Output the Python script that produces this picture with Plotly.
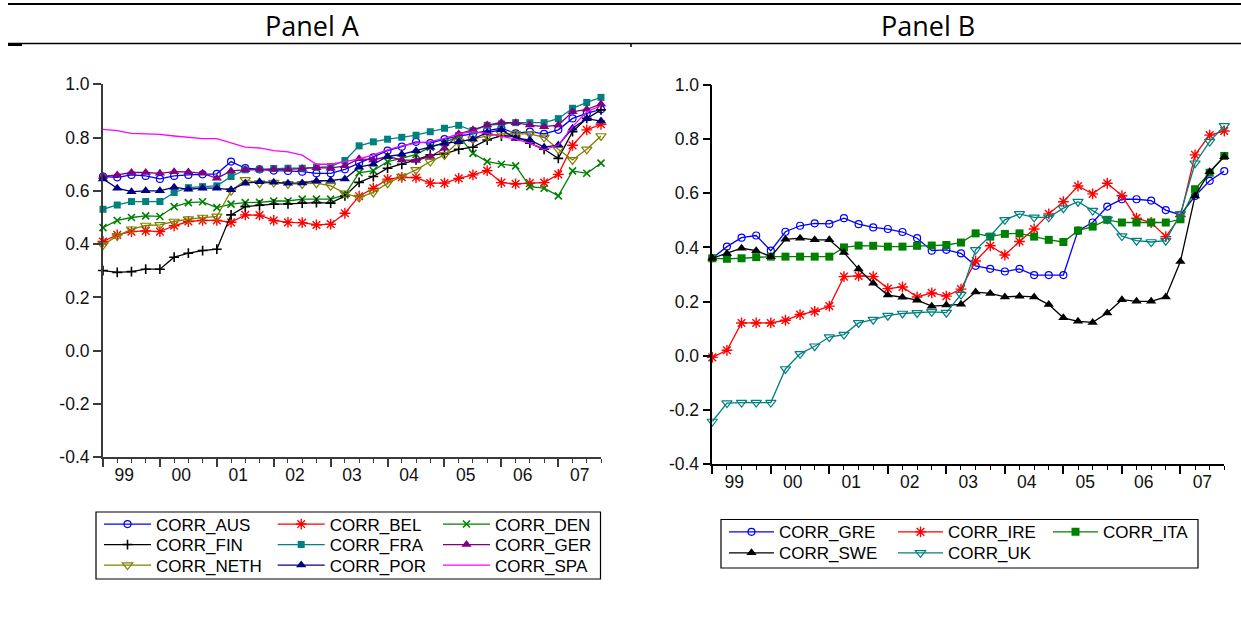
import plotly.graph_objects as go

W, H = 1241, 627

# ---------------- data ----------------
quarters = list(range(36))  # 1999Q1 .. 2007Q4
year_labels = ["99", "00", "01", "02", "03", "04", "05", "06", "07"]
year_label_pos = [1.5, 5.5, 9.5, 13.5, 17.5, 21.5, 25.5, 29.5, 33.5]
major_ticks = [0, 4, 8, 12, 16, 20, 24, 28, 32]
y_ticks = [-0.4, -0.2, 0.0, 0.2, 0.4, 0.6, 0.8, 1.0]
y_ticktext = ["-0.4", "-0.2", "0.0", "0.2", "0.4", "0.6", "0.8", "1.0"]

panel_titles = ["Panel A", "Panel B"]

names_a = ["CORR_AUS", "CORR_BEL", "CORR_DEN", "CORR_FIN", "CORR_FRA",
           "CORR_GER", "CORR_NETH", "CORR_POR", "CORR_SPA"]
corr_aus = [0.654, 0.651, 0.660, 0.656, 0.645, 0.656, 0.660, 0.662, 0.664, 0.710, 0.685, 0.681,
            0.676, 0.675, 0.672, 0.666, 0.666, 0.681, 0.705, 0.726, 0.751, 0.766, 0.784, 0.779,
            0.794, 0.806, 0.814, 0.826, 0.835, 0.816, 0.822, 0.814, 0.829, 0.872, 0.891, 0.906]
corr_bel = [0.410, 0.435, 0.447, 0.450, 0.447, 0.469, 0.485, 0.489, 0.489, 0.482, 0.510, 0.509,
            0.489, 0.482, 0.481, 0.472, 0.475, 0.516, 0.580, 0.610, 0.644, 0.651, 0.650, 0.629,
            0.629, 0.647, 0.660, 0.676, 0.631, 0.626, 0.629, 0.631, 0.662, 0.771, 0.829, 0.850]
corr_den = [0.462, 0.489, 0.500, 0.506, 0.504, 0.541, 0.556, 0.559, 0.537, 0.550, 0.556, 0.557,
            0.562, 0.562, 0.569, 0.569, 0.569, 0.585, 0.668, 0.676, 0.710, 0.722, 0.737, 0.764,
            0.781, 0.806, 0.741, 0.710, 0.700, 0.694, 0.616, 0.610, 0.581, 0.675, 0.666, 0.704]
corr_fin = [0.301, 0.294, 0.297, 0.306, 0.306, 0.351, 0.366, 0.376, 0.381, 0.510, 0.541, 0.546,
            0.550, 0.551, 0.554, 0.556, 0.554, 0.581, 0.632, 0.654, 0.685, 0.700, 0.716, 0.735,
            0.739, 0.756, 0.764, 0.791, 0.806, 0.806, 0.779, 0.756, 0.722, 0.822, 0.872, 0.904]
corr_fra = [0.531, 0.547, 0.560, 0.560, 0.560, 0.594, 0.612, 0.616, 0.619, 0.654, 0.679, 0.681,
            0.684, 0.685, 0.685, 0.689, 0.691, 0.714, 0.769, 0.784, 0.794, 0.801, 0.809, 0.822,
            0.835, 0.846, 0.826, 0.846, 0.851, 0.856, 0.856, 0.856, 0.871, 0.910, 0.932, 0.951]
corr_ger = [0.654, 0.660, 0.669, 0.669, 0.666, 0.672, 0.671, 0.666, 0.647, 0.675, 0.679, 0.681,
            0.681, 0.681, 0.684, 0.687, 0.685, 0.694, 0.721, 0.716, 0.729, 0.716, 0.714, 0.729,
            0.760, 0.814, 0.829, 0.847, 0.857, 0.856, 0.847, 0.841, 0.847, 0.897, 0.906, 0.926]
corr_neth = [0.397, 0.431, 0.456, 0.470, 0.472, 0.485, 0.494, 0.500, 0.504, 0.600, 0.641, 0.629,
             0.631, 0.626, 0.626, 0.629, 0.619, 0.591, 0.575, 0.594, 0.629, 0.654, 0.679, 0.710,
             0.735, 0.785, 0.794, 0.806, 0.814, 0.814, 0.814, 0.801, 0.756, 0.716, 0.756, 0.806]
corr_por = [0.645, 0.610, 0.597, 0.600, 0.600, 0.614, 0.606, 0.610, 0.610, 0.604, 0.629, 0.634,
            0.632, 0.629, 0.630, 0.637, 0.639, 0.645, 0.689, 0.700, 0.729, 0.737, 0.751, 0.764,
            0.779, 0.784, 0.794, 0.819, 0.829, 0.797, 0.791, 0.764, 0.772, 0.835, 0.871, 0.862]
corr_spa = [0.831, 0.826, 0.816, 0.814, 0.812, 0.806, 0.800, 0.796, 0.796, 0.780, 0.764, 0.761,
            0.751, 0.746, 0.734, 0.700, 0.700, 0.710, 0.720, 0.735, 0.754, 0.769, 0.779, 0.785,
            0.797, 0.814, 0.822, 0.816, 0.806, 0.794, 0.779, 0.754, 0.772, 0.841, 0.897, 0.919]
values_a = [corr_aus, corr_bel, corr_den, corr_fin, corr_fra,
            corr_ger, corr_neth, corr_por, corr_spa]

names_b = ["CORR_GRE", "CORR_IRE", "CORR_ITA", "CORR_SWE", "CORR_UK"]
corr_gre = [0.360, 0.403, 0.436, 0.444, 0.388, 0.458, 0.480, 0.489, 0.487, 0.508, 0.486, 0.474,
            0.468, 0.457, 0.434, 0.388, 0.391, 0.378, 0.332, 0.321, 0.311, 0.321, 0.298, 0.298,
            0.298, 0.462, 0.492, 0.551, 0.578, 0.578, 0.573, 0.538, 0.520, 0.590, 0.646, 0.682]
corr_ire = [-0.006, 0.020, 0.121, 0.121, 0.121, 0.131, 0.152, 0.164, 0.183, 0.292, 0.295, 0.292,
            0.248, 0.254, 0.217, 0.232, 0.220, 0.246, 0.350, 0.406, 0.372, 0.422, 0.468, 0.524,
            0.569, 0.627, 0.598, 0.637, 0.591, 0.508, 0.492, 0.440, 0.514, 0.742, 0.815, 0.830]
corr_ita = [0.360, 0.358, 0.360, 0.364, 0.366, 0.366, 0.366, 0.366, 0.366, 0.400, 0.407, 0.406,
            0.403, 0.403, 0.406, 0.407, 0.409, 0.418, 0.452, 0.440, 0.450, 0.452, 0.440, 0.428,
            0.420, 0.462, 0.477, 0.502, 0.492, 0.492, 0.492, 0.492, 0.504, 0.615, 0.676, 0.738]
corr_swe = [0.360, 0.378, 0.397, 0.388, 0.366, 0.430, 0.434, 0.428, 0.428, 0.381, 0.320, 0.268,
            0.224, 0.216, 0.205, 0.183, 0.187, 0.190, 0.235, 0.230, 0.217, 0.220, 0.217, 0.189,
            0.140, 0.127, 0.123, 0.158, 0.207, 0.201, 0.201, 0.217, 0.348, 0.590, 0.680, 0.735]
corr_uk = [-0.243, -0.175, -0.173, -0.173, -0.173, -0.049, 0.007, 0.035, 0.069, 0.078, 0.121, 0.133,
           0.148, 0.156, 0.158, 0.162, 0.159, 0.226, 0.391, 0.442, 0.502, 0.524, 0.511, 0.511,
           0.545, 0.569, 0.536, 0.504, 0.442, 0.425, 0.420, 0.425, 0.524, 0.711, 0.791, 0.849]
values_b = [corr_gre, corr_ire, corr_ita, corr_swe, corr_uk]

# ---------------- styles ----------------
styles = {
    "CORR_AUS": dict(color="#0000FF", symbol="circle-open", size=7, lw=1.2),
    "CORR_BEL": dict(color="#FF0000", symbol="asterisk-open", size=9, lw=1.4),
    "CORR_DEN": dict(color="#008000", symbol="x-thin-open", size=7, lw=1.6),
    "CORR_FIN": dict(color="#000000", symbol="cross-thin-open", size=7, lw=1.6),
    "CORR_FRA": dict(color="#008080", symbol="square", size=7, lw=0),
    "CORR_GER": dict(color="#800080", symbol="triangle-up", size=9, lw=0),
    "CORR_NETH": dict(color="#808000", symbol="triangle-down-open", size=9, lw=1.2),
    "CORR_POR": dict(color="#000080", symbol="triangle-up", size=9, lw=0),
    "CORR_SPA": dict(color="#FF00FF", symbol=None, size=0, lw=0),
    "CORR_GRE": dict(color="#0000FF", symbol="circle-open", size=7, lw=1.2),
    "CORR_IRE": dict(color="#FF0000", symbol="asterisk-open", size=9, lw=1.4),
    "CORR_ITA": dict(color="#008000", symbol="square", size=8, lw=0),
    "CORR_SWE": dict(color="#000000", symbol="triangle-up", size=9, lw=0),
    "CORR_UK": dict(color="#008080", symbol="triangle-down-open", size=9, lw=1.2),
}

FONT = "Liberation Sans, Arial, sans-serif"


def px(x):
    return x / W


def py(y):
    return 1 - y / H


fig = go.Figure()

# legend layout (pixel positions of columns / rows)
leg_a_cols = [99, 272.7, 438]
leg_a_rows = [524.5, 545, 565.5]
leg_b_cols = [724, 893, 1048]
leg_b_rows = [532.3, 553.3]

legend_layouts = {}
leg_counter = [0]


def add_series(name, vals, xa, ya, col_x, row_y, itemw):
    st = styles[name]
    leg_counter[0] += 1
    k = leg_counter[0]
    lname = "legend" if k == 1 else f"legend{k}"
    legend_layouts[lname] = dict(
        x=px(col_x), y=py(row_y), xanchor="left", yanchor="middle",
        orientation="v", bgcolor="rgba(0,0,0,0)", borderwidth=0,
        font=dict(family=FONT, size=17, color="#000000"),
        itemwidth=itemw, itemclick=False, itemdoubleclick=False,
    )
    if st["symbol"] is None:
        mode = "lines"
        marker = None
    else:
        mode = "lines+markers"
        filled = not st["symbol"].endswith("open")
        marker = dict(symbol=st["symbol"], size=st["size"], color=st["color"],
                      line=dict(color=st["color"], width=st["lw"] if not filled else 0))
    tr = go.Scatter(
        x=quarters, y=vals, name=name, mode=mode,
        line=dict(color=st["color"], width=1.3),
        xaxis=xa, yaxis=ya, legend=lname, cliponaxis=False,
        showlegend=True,
    )
    if marker is not None:
        tr.marker = marker
    fig.add_trace(tr)


for i, (n, v) in enumerate(zip(names_a, values_a)):
    add_series(n, v, "x", "y", leg_a_cols[i % 3], leg_a_rows[i // 3], 47)
for i, (n, v) in enumerate(zip(names_b, values_b)):
    add_series(n, v, "x2", "y2", leg_b_cols[i % 3], leg_b_rows[i // 3], 45)

# empty traces so that the label (overlay) axes are created and drawn
fig.add_trace(go.Scatter(x=[], y=[], xaxis="x3", yaxis="y", showlegend=False,
                         hoverinfo="skip"))
fig.add_trace(go.Scatter(x=[], y=[], xaxis="x4", yaxis="y2", showlegend=False,
                         hoverinfo="skip"))

# ---------------- axes ----------------
dom_ax = [px(103), px(601)]
dom_ay = [py(457.3), py(84.3)]
dom_bx = [px(712.3), px(1224.3)]
dom_by = [py(464), py(85)]

tickfont = dict(family=FONT, size=17.5, color="#111111")


def x_main(domain, anchor, lc, lw):
    return dict(domain=domain, anchor=anchor, range=[0, 35], showgrid=False, zeroline=False,
                showline=True, linecolor=lc, linewidth=lw,
                tickmode="array", tickvals=major_ticks, ticks="outside", ticklen=8,
                tickwidth=1.5, tickcolor=lc, showticklabels=False,
                minor=dict(tickmode="array", tickvals=quarters, ticks="outside",
                           ticklen=4, tickwidth=1.2, tickcolor=lc))


def x_labels(overlay, anchor):
    return dict(overlaying=overlay, anchor=anchor, side="bottom", range=[0, 35],
                showgrid=False, zeroline=False, showline=False, tickmode="array",
                tickvals=year_label_pos, ticktext=year_labels, ticks="outside",
                ticklen=2, tickcolor="rgba(0,0,0,0)", showticklabels=True,
                tickfont=tickfont)


def y_main(domain, anchor, lc, lw):
    return dict(domain=domain, anchor=anchor, range=[-0.4, 1.0], showgrid=False,
                zeroline=False, showline=True, linecolor=lc, linewidth=lw,
                tickmode="array", tickvals=y_ticks, ticktext=y_ticktext,
                ticks="outside", ticklen=8, tickwidth=1.5, tickcolor=lc,
                tickfont=tickfont)


fig.update_layout(
    xaxis=x_main(dom_ax, "y", "#3a3a3a", 2),
    yaxis=y_main(dom_ay, "x", "#3a3a3a", 2),
    xaxis2=x_main(dom_bx, "y2", "#000000", 1.5),
    yaxis2=y_main(dom_by, "x2", "#000000", 1.5),
    xaxis3=x_labels("x", "y"),
    xaxis4=x_labels("x2", "y2"),
)

fig.update_layout(**legend_layouts)

# ---------------- decorations ----------------
shapes = [
    dict(type="line", xref="paper", yref="paper", x0=px(8), x1=1, y0=py(4), y1=py(4),
         line=dict(color="#000000", width=2.2)),
    dict(type="line", xref="paper", yref="paper", x0=px(8), x1=1, y0=py(43.5), y1=py(43.5),
         line=dict(color="#000000", width=1.3)),
    dict(type="line", xref="paper", yref="paper", x0=px(8), x1=px(22), y0=py(44.5), y1=py(44.5),
         line=dict(color="#000000", width=3)),
    dict(type="line", xref="paper", yref="paper", x0=px(631), x1=px(631), y0=py(43.5), y1=py(47),
         line=dict(color="#000000", width=1.5)),
    # legend boxes
    dict(type="rect", xref="paper", yref="paper", x0=px(96), x1=px(600.5), y0=py(512), y1=py(579),
         line=dict(color="#000000", width=1.2), fillcolor="rgba(0,0,0,0)", layer="below"),
    dict(type="rect", xref="paper", yref="paper", x0=px(721), x1=px(1198), y0=py(519.5), y1=py(568),
         line=dict(color="#000000", width=1.2), fillcolor="rgba(0,0,0,0)", layer="below"),
]

annotations = [
    dict(text=panel_titles[0], xref="paper", yref="paper", x=px(312), y=py(26),
         xanchor="center", yanchor="middle", showarrow=False,
         font=dict(family="Open Sans, sans-serif", size=27, color="#000000")),
    dict(text=panel_titles[1], xref="paper", yref="paper", x=px(928), y=py(26),
         xanchor="center", yanchor="middle", showarrow=False,
         font=dict(family="Open Sans, sans-serif", size=27, color="#000000")),
]

fig.update_layout(
    width=W, height=H,
    margin=dict(l=0, r=0, t=0, b=0, pad=0, autoexpand=False),
    paper_bgcolor="white", plot_bgcolor="white",
    shapes=shapes, annotations=annotations,
    font=dict(family=FONT, size=17, color="#000000"),
    hovermode=False,
)

fig.write_html("out.html", config={"displayModeBar": False},
               post_script="document.body.style.margin='0';")
